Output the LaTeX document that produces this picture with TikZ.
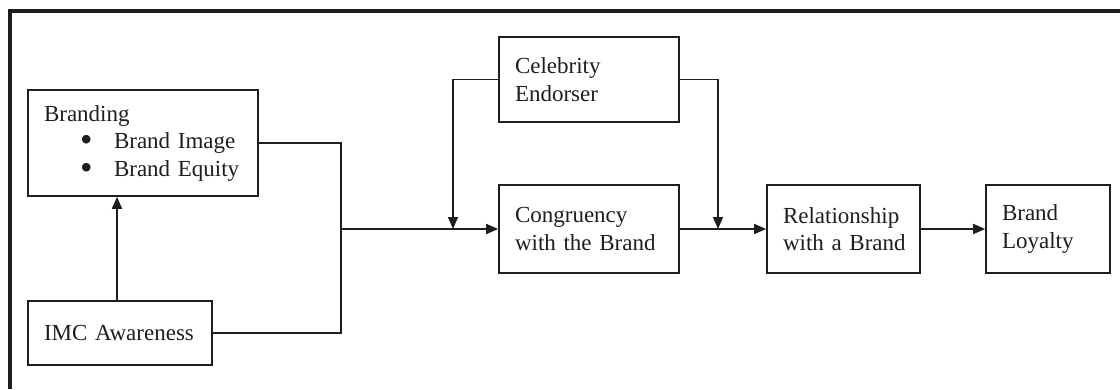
\documentclass[tikz,border=0pt]{standalone}
\usepackage{fontspec}
\setmainfont{Liberation Serif}
\usetikzlibrary{arrows.meta}
\definecolor{ink}{HTML}{1E1E1E}
\newcommand{\ind}{\hspace*{16pt}}
\newcommand{\bitem}{\hspace*{52pt}\makebox[34pt][l]{\smash{\raisebox{-0.15em}{\scalebox{1.55}{\textbullet}}}}}
\begin{document}
\begin{tikzpicture}[x=1pt,y=-1pt,
  box/.style={draw=ink,line width=1.6pt,inner xsep=0pt,inner ysep=0pt,align=left,text=ink,
    font=\fontsize{23}{27.5}\selectfont},
  conn/.style={draw=ink,line width=1.6pt},
  arr/.style={conn,-{Triangle[length=12pt,width=10pt]}}]
\useasboundingbox (0,0) rectangle (1120,389);
\draw[ink,line width=3.5pt] (10,389) -- (10,11) -- (1120,11);
\node[box,text width=230pt,minimum height=106pt] (branding) at (143,143)
  {\ind Branding\\\bitem Brand Image\\\bitem Brand Equity};
\node[box,text width=184pt,minimum height=64pt] (imc) at (120,333) {\ind IMC Awareness};
\node[box,text width=180pt,minimum height=85pt] (celeb) at (589,79.5) {\ind Celebrity\\\ind Endorser};
\node[box,text width=180pt,minimum height=88pt] (cong) at (589,229) {\ind Congruency\\\ind with the Brand};
\node[box,text width=153pt,minimum height=88pt] (rel) at (843.5,229) {\ind Relationship\\\ind with a Brand};
\node[box,text width=124pt,minimum height=88pt] (loyal) at (1048,229) {\ind Brand\\\ind Loyalty};
\coordinate (j1) at (341,229);
\coordinate (d1) at (453,229);
\coordinate (d2) at (718,229);
\draw[arr] (imc.north -| 117,0) -- (117,0 |- branding.south);
\draw[conn] (branding.east) -| (j1);
\draw[conn] (imc.east) -| (j1);
\draw[arr] (j1) -- (cong.west);
\draw[arr] (celeb.west) -| (d1);
\draw[arr] (celeb.east) -| (d2);
\draw[arr] (cong.east) -- (rel.west);
\draw[arr] (rel.east) -- (loyal.west);
\end{tikzpicture}
\end{document}
